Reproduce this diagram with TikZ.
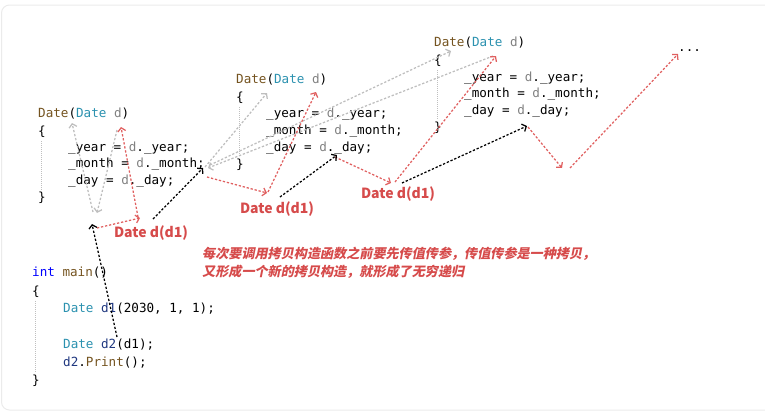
\documentclass[tikz,border=0pt]{standalone}
\usepackage{fontspec}
\setmonofont{DejaVu Sans Mono}
\newfontfamily\cjk{Noto Sans CJK SC}
\newfontfamily\cjkit{Noto Sans CJK SC}[FakeSlant=0.2]
\usetikzlibrary{arrows.meta}
\definecolor{fn}{HTML}{74531F}
\definecolor{ty}{HTML}{2B91AF}
\definecolor{pr}{HTML}{808080}
\definecolor{kw}{HTML}{0000FF}
\definecolor{lv}{HTML}{1F377F}
\definecolor{redlab}{HTML}{D64B4B}
\definecolor{redarr}{HTML}{E06060}
\definecolor{grayarr}{HTML}{BEBEBE}
\definecolor{frame}{HTML}{EBEBEB}
\tikzset{
  code/.style={font=\ttfamily\fontsize{12.6}{14}\selectfont, inner sep=0pt, anchor=west, text height=9pt, text depth=3pt},
  redlabel/.style={font=\cjk\bfseries\fontsize{14}{16}\selectfont, text=redlab, inner sep=0pt},
  note/.style={font=\cjkit\bfseries\fontsize{13.1}{15}\selectfont, text=redlab, inner sep=0pt, anchor=west},
  arr/.style={dash pattern=on 2.3pt off 1.8pt, line width=1.25pt, -{Straight Barb[length=3.5pt,width=8pt]}},
  blackarr/.style={arr, draw=black},
  redarrow/.style={arr, draw=redarr},
  grayarrow/.style={arr, draw=grayarr},
  guide/.style={draw=black!25, line width=0.5pt, dash pattern=on 1pt off 1pt}
}
\begin{document}
\begin{tikzpicture}[x=1pt,y=-1pt]
\useasboundingbox (0,0) rectangle (765,416);
\begin{scope}
\clip (0,0) rectangle (765,416);
\draw[frame, line width=1pt, rounded corners=8pt] (1.5,5) rectangle (800,410);
\end{scope}

% block 1
\node[code] (b1h) at (38,114) {\color{fn}Date\color{black}(\color{ty}Date \color{pr}d\color{black})};
\node[code] (b1o) at (38,132) {\{};
\node[code] (b1y) at (68,148) {\_year = \color{pr}d\color{black}.\_year;};
\node[code] (b1m) at (68,164) {\_month = \color{pr}d\color{black}.\_month;};
\node[code] (b1d) at (68,181) {\_day = \color{pr}d\color{black}.\_day;};
\node[code] (b1c) at (38,198) {\}};
\draw[guide] (41.5,141) -- (41.5,191);

% block 2
\node[code] (b2h) at (236,80) {\color{fn}Date\color{black}(\color{ty}Date \color{pr}d\color{black})};
\node[code] (b2o) at (236,98) {\{};
\node[code] (b2y) at (266,114) {\_year = \color{pr}d\color{black}.\_year;};
\node[code] (b2m) at (266,131) {\_month = \color{pr}d\color{black}.\_month;};
\node[code] (b2d) at (266,148) {\_day = \color{pr}d\color{black}.\_day;};
\node[code] (b2c) at (236,165) {\}};
\draw[guide] (239.5,107) -- (239.5,157);

% block 3
\node[code] (b3h) at (434,43) {\color{fn}Date\color{black}(\color{ty}Date \color{pr}d\color{black})};
\node[code] (b3o) at (434,61) {\{};
\node[code] (b3y) at (464,78) {\_year = \color{pr}d\color{black}.\_year;};
\node[code] (b3m) at (464,94) {\_month = \color{pr}d\color{black}.\_month;};
\node[code] (b3d) at (464,111) {\_day = \color{pr}d\color{black}.\_day;};
\node[code] (b3c) at (434,128) {\}};
\draw[guide] (437.5,70) -- (437.5,120);

% main
\node[code] (m1) at (32,273) {\color{kw}int \color{fn}main\color{black}()};
\node[code] (m2) at (32,292) {\{};
\node[code] (m3) at (63,309) {\color{ty}Date \color{lv}d1\color{black}(2030, 1, 1);};
\node[code] (m4) at (63,345) {\color{ty}Date \color{lv}d2\color{black}(d1);};
\node[code] (m5) at (63,363) {\color{lv}d2\color{black}.\color{fn}Print\color{black}();};
\node[code] (m6) at (32,381) {\}};
\draw[guide] (35.5,301) -- (35.5,373);

\node[code] (dots) at (678,48) {...};

% labels
\node[redlabel] (L1) at (151,233) {Date d(d1)};
\node[redlabel] (L2) at (277,209) {Date d(d1)};
\node[redlabel] (L3) at (398,194) {Date d(d1)};
\node[note] (n1) at (202,254) {每次要调用拷贝构造函数之前要先传值传参，传值传参是一种拷贝，};
\node[note] (n2) at (202,272) {又形成一个新的拷贝构造，就形成了无穷递归};

% coordinates
\coordinate (k1a) at (117,337); \coordinate (k1b) at (92,224);
\coordinate (k2a) at (153,219); \coordinate (k2b) at (203,168);
\coordinate (k3a) at (280,197); \coordinate (k3b) at (337,155);
\coordinate (k4a) at (402,183); \coordinate (k4b) at (527,126);
\coordinate (r1a) at (97,228);  \coordinate (r1b) at (140,218);
\coordinate (r2a) at (138,217); \coordinate (r2b) at (121,127);
\coordinate (r3a) at (207,177); \coordinate (r3b) at (267,193);
\coordinate (r4a) at (268,192); \coordinate (r4b) at (316,92);
\coordinate (r5a) at (335,157); \coordinate (r5b) at (391,183);
\coordinate (r6a) at (395,182); \coordinate (r6b) at (496,56);
\coordinate (r7a) at (528,127); \coordinate (r7b) at (562,168);
\coordinate (r8a) at (570,168); \coordinate (r8b) at (678,54);
\coordinate (g1a) at (93,212);  \coordinate (g1b) at (72,123);
\coordinate (g2a) at (117,130); \coordinate (g2b) at (97,213);
\coordinate (g3a) at (205,167); \coordinate (g3b) at (267,93);
\coordinate (g4a) at (210,165); \coordinate (g4b) at (451,51);
\coordinate (g5a) at (493,56);  \coordinate (g5b) at (208,168);

% gray arrows
\draw[grayarrow] (g1a) -- (g1b);
\draw[grayarrow] (g2a) -- (g2b);
\draw[grayarrow] (g3a) -- (g3b);
\draw[grayarrow] (g4a) -- (g4b);
\draw[grayarrow] (g5a) -- (g5b);
% red arrows
\draw[redarrow] (r1a) -- (r1b);
\draw[redarrow] (r2a) -- (r2b);
\draw[redarrow] (r3a) -- (r3b);
\draw[redarrow] (r4a) -- (r4b);
\draw[redarrow] (r5a) -- (r5b);
\draw[redarrow] (r6a) -- (r6b);
\draw[redarrow] (r7a) -- (r7b);
\draw[redarrow] (r8a) -- (r8b);
% black arrows
\draw[blackarr] (k1a) -- (k1b);
\draw[blackarr] (k2a) -- (k2b);
\draw[blackarr] (k3a) -- (k3b);
\draw[blackarr] (k4a) -- (k4b);
\end{tikzpicture}
\end{document}
